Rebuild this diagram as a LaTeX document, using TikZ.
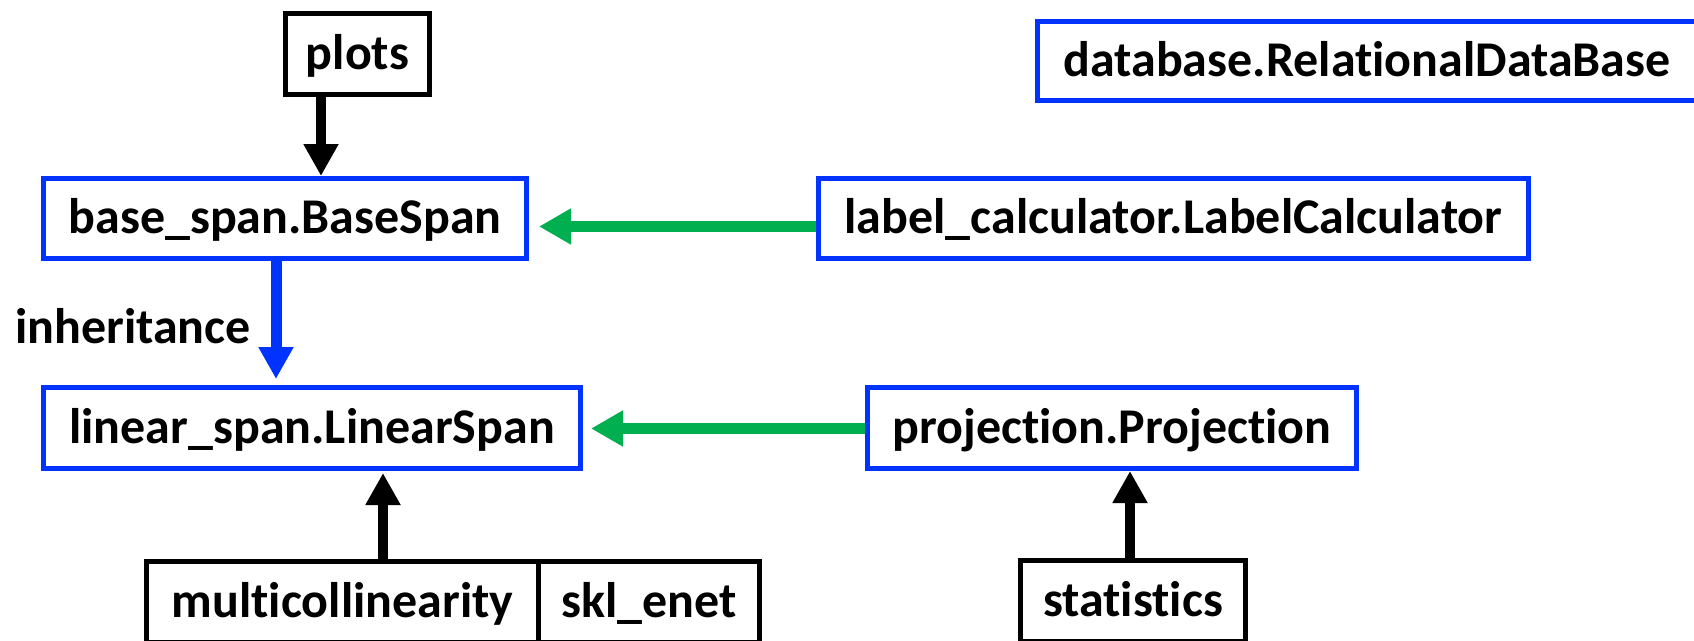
\documentclass[tikz,border=0pt]{standalone}
\usepackage{fontspec}
\setmainfont{Carlito}[Ligatures=NoCommon]
\usetikzlibrary{arrows.meta}
\definecolor{boxblue}{HTML}{0033FF}
\definecolor{linkgreen}{HTML}{00B050}
\begin{document}
\begin{tikzpicture}[x=1pt,y=-1pt,
  every node/.style={font=\fontsize{50}{60}\selectfont\bfseries,
    text height=32.5pt, text depth=2.5pt, inner sep=0pt},
  modbox/.style={draw=black, line width=5pt, minimum width=#1, minimum height=81pt},
  clsbox/.style={draw=boxblue, line width=5pt, minimum width=#1, minimum height=80pt},
  blk/.style={draw=black, line width=10pt, -{Triangle[length=32pt,width=33pt]}},
  bluearr/.style={draw=boxblue, line width=11pt, -{Triangle[length=32pt,width=33pt]}},
  grn/.style={draw=linkgreen, line width=11pt, -{Triangle[length=32pt,width=34pt]}}]
\useasboundingbox (0,0) rectangle (1694,640);
\clip (0,0) rectangle (1694,640);

% modules and classes
\node[modbox=144pt] (plots) at (357.5,54) {plots};
\node[clsbox=483pt] (base) at (285,218.5) {base\_span.BaseSpan};
\node[clsbox=710pt] (label) at (1173.5,218.5) {label\_calculator.LabelCalculator};
\node[clsbox=660pt, minimum height=79pt] (db) at (1367,61) {database.RelationalDataBase};
\node[clsbox=537pt, minimum height=81pt] (linear) at (312,428) {linear\_span.LinearSpan};
\node[clsbox=489pt, minimum height=81pt] (proj) at (1112,428) {projection.Projection};
\node[modbox=392pt] (multi) at (342.5,602) {multicollinearity};
\node[modbox=221pt] (skl) at (649,602) {skl\_enet};
\node[modbox=225pt] (stats) at (1133,601) {statistics};
\node[anchor=base west] (inh) at (15,343) {inheritance};

% dependencies
\draw[blk] (plots.south -| 321,0) -- (base.north -| 321,0);
\draw[bluearr, shorten >=6pt, shorten <=-3pt] (base.south -| 276,0) -- (linear.north -| 276,0);
\draw[grn, shorten >=10pt] (label.west |- 0,226.5) -- (base.east |- 0,226.5);
\draw[grn, shorten >=8pt] (proj.west |- 0,428.5) -- (linear.east |- 0,428.5);
\draw[blk, shorten >=2pt, shorten <=-2pt] (multi.north -| 383,0) -- (linear.south -| 383,0);
\draw[blk] (stats.north -| 1130,0) -- (proj.south -| 1130,0);
\end{tikzpicture}
\end{document}
